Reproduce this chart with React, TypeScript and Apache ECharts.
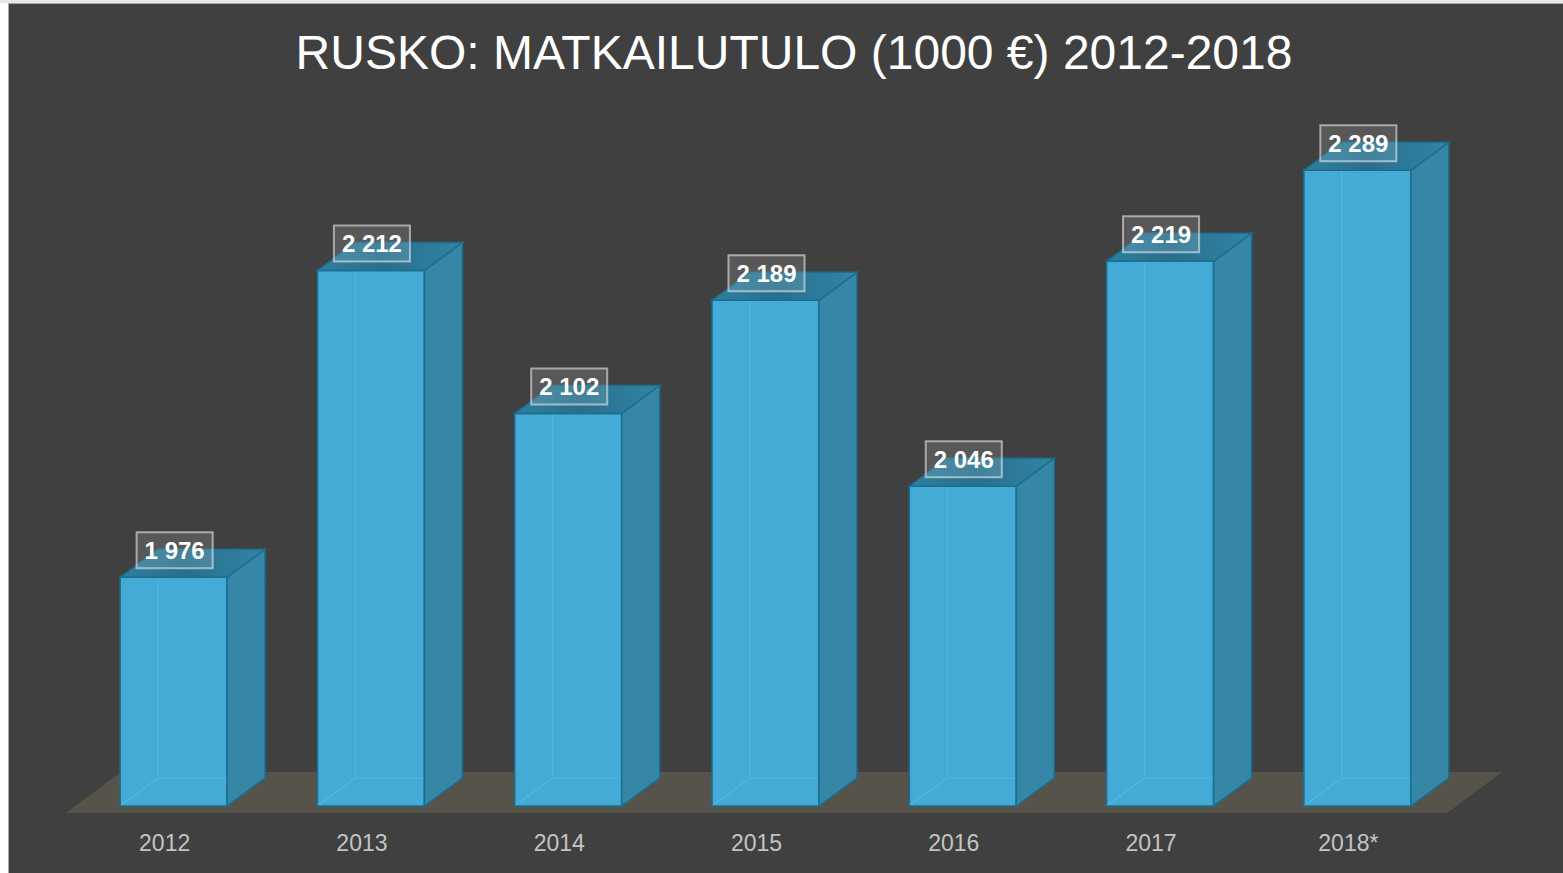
import React, { useEffect, useRef } from "react";
import * as echarts from "echarts";

const categories = ["2012", "2013", "2014", "2015", "2016", "2017", "2018*"];
const values = [1976, 2212, 2102, 2189, 2046, 2219, 2289];
const titleText = "RUSKO: MATKAILUTULO (1000 €) 2012-2018";
const yMin = 1800;
const yMax = 2400;

const fmt = (v: number) => String(v).replace(/\B(?=(\d{3})+(?!\d))/g, " ");

export default function App() {
  const ref = useRef<HTMLDivElement>(null);
  useEffect(() => {
    const chart = echarts.init(ref.current!, undefined, { renderer: "svg" });
    const DX = 38;
    const DY = 28;
    const option: any = {
      animation: false,
      backgroundColor: "#ffffff",
      graphic: [
        { type: "rect", z: -10, shape: { x: 0, y: 0, width: 1563, height: 3 }, style: { fill: "#e6e6e6" } },
        { type: "rect", z: -10, shape: { x: 8, y: 3, width: 1555, height: 870 }, style: { fill: "#a8a8a8" } },
        { type: "rect", z: -10, shape: { x: 9, y: 4, width: 1554, height: 869 }, style: { fill: "#404040" } },
        {
          type: "text",
          x: 794,
          y: 52,
          z: 10,
          style: {
            text: titleText,
            fill: "#ffffff",
            font: '48px "Liberation Sans", Arial, sans-serif',
            align: "center",
            verticalAlign: "middle",
          },
        },
      ],
      grid: { left: 75, right: 107, top: 26, bottom: 67 },
      xAxis: {
        type: "category",
        data: categories,
        axisLine: { show: false },
        axisTick: { show: false },
        axisLabel: {
          color: "#c4c4c4",
          fontSize: 23,
          fontFamily: '"Liberation Sans", Arial, sans-serif',
          margin: 25,
          padding: [0, 18, 0, 0],
        },
      },
      yAxis: {
        type: "value",
        min: yMin,
        max: yMax,
        show: false,
        splitLine: { show: false },
      },
      series: [
        {
          type: "custom",
          z: 1,
          data: [0],
          renderItem: (params: any, api: any) => {
            const cs = params.coordSys;
            const by = cs.y + cs.height + 7;
            const x0 = cs.x - 9;
            const x1 = cs.x + cs.width - 9;
            return {
              type: "polygon",
              shape: {
                points: [
                  [x0, by],
                  [x1, by],
                  [x1 + 55, by - 41],
                  [x0 + 55, by - 41],
                ],
              },
              style: { fill: "#56534b" },
            };
          },
        },
        {
          type: "custom",
          z: 2,
          data: values.map((v, i) => [i, v]),
          renderItem: (params: any, api: any) => {
            const top = api.coord([api.value(0), api.value(1)]);
            const base = api.coord([api.value(0), yMin]);
            const w = api.size([1, 0])[0] * 0.542;
            const L = top[0] - w / 2;
            const R = top[0] + w / 2;
            const T = top[1];
            const B = base[1];
            const edge = "#1b6e8e";
            const label = fmt(values[params.dataIndex]);
            return {
              type: "group",
              children: [
                {
                  type: "rect",
                  shape: { x: L, y: T, width: R - L, height: B - T },
                  style: { fill: "#43abd5", stroke: edge, lineWidth: 1.5 },
                },
                {
                  type: "line",
                  shape: { x1: L + DX, y1: T - DY, x2: L + DX, y2: B - DY },
                  style: { stroke: "rgba(90,195,235,0.55)", lineWidth: 1.2 },
                },
                {
                  type: "line",
                  shape: { x1: L + 1, y1: B - 1, x2: L + DX, y2: B - DY },
                  style: { stroke: "rgba(90,195,235,0.55)", lineWidth: 1.2 },
                },
                {
                  type: "line",
                  shape: { x1: L + DX, y1: B - DY, x2: R, y2: B - DY },
                  style: { stroke: "rgba(90,195,235,0.55)", lineWidth: 1.2 },
                },
                {
                  type: "polygon",
                  shape: {
                    points: [
                      [R, T],
                      [R + DX, T - DY],
                      [R + DX, B - DY],
                      [R, B],
                    ],
                  },
                  style: { fill: "#3586a7", stroke: edge, lineWidth: 1.5 },
                },
                {
                  type: "polygon",
                  shape: {
                    points: [
                      [L, T],
                      [R, T],
                      [R + DX, T - DY],
                      [L + DX, T - DY],
                    ],
                  },
                  style: {
                    fill: {
                      type: "linear",
                      x: 0,
                      y: 0,
                      x2: 1,
                      y2: 0,
                      colorStops: [
                        { offset: 0, color: "#2f7fa0" },
                        { offset: 0.45, color: "#286f8c" },
                        { offset: 1, color: "#3284a6" },
                      ],
                    },
                    stroke: edge,
                    lineWidth: 1.5,
                  },
                },
                {
                  type: "text",
                  x: top[0] + 1,
                  y: T - 27,
                  style: {
                    text: label,
                    fill: "#ffffff",
                    font: 'bold 24px "Liberation Sans", Arial, sans-serif',
                    align: "center",
                    verticalAlign: "middle",
                    lineHeight: 24,
                    padding: [6, 8, 6, 8],
                    backgroundColor: "rgba(255,255,255,0.13)",
                    borderColor: "rgba(230,230,230,0.6)",
                    borderWidth: 1,
                  },
                },
              ],
            };
          },
        },
      ],
    };
    chart.setOption(option);
    return () => chart.dispose();
  }, []);
  return (
    <div
      ref={ref}
      style={{ position: "fixed", left: 0, top: 0, width: 1563, height: 873 }}
    />
  );
}
